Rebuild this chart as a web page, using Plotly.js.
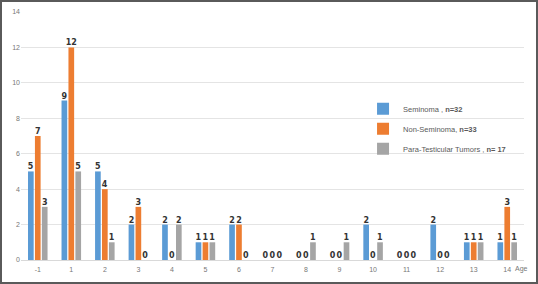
<!DOCTYPE html>
<html>
<head>
<meta charset="utf-8">
<script src="https://cdn.plot.ly/plotly-3.0.1.min.js"></script>
<style>html,body{margin:0;padding:0;background:#fff;}#wrap{position:relative;width:538px;height:284px;}#chart{width:538px;height:284px;}#frame{position:absolute;left:0;top:0;width:538px;height:284px;box-sizing:border-box;border:2px solid #5a5a5a;pointer-events:none;}</style>
</head>
<body>
<div id="wrap"><div id="chart"></div><div id="frame"></div></div>
<script>
var ages = ["-1","1","2","3","4","5","6","7","8","9","10","11","12","13","14"];
var seminoma = [5,9,5,2,2,1,2,0,0,0,2,0,2,1,1];
var nonSeminoma = [7,12,4,3,0,1,2,0,0,0,0,0,0,1,3];
var paraTesticular = [3,5,1,0,2,1,0,0,1,1,1,0,0,1,1];
var seriesNames = ["Seminoma , <b>n=32</b>", "Non-Seminoma, <b>n=33</b>", "Para-Testicular Tumors , <b>n= 17</b>"];
var colors = ["#5B9BD5", "#ED7D31", "#A5A5A5"];
var yTicks = [0,2,4,6,8,10,12,14];

function mk(vals, i) {
  return {
    type: "bar", x: ages, y: vals, name: seriesNames[i],
    marker: {color: colors[i]},
    text: vals.map(String), textposition: "outside", constraintext: "none",
    textfont: {family: "DejaVu Sans", size: 8, color: "#333", weight: "bold"},
    cliponaxis: false, legendgroup: "g" + i, hoverinfo: "none"
  };
}
var data = [mk(seminoma,0), mk(nonSeminoma,1), mk(paraTesticular,2)];
var layout = {
  width: 538, height: 284,
  margin: {l: 21, r: 14, t: 12, b: 24},
  paper_bgcolor: "#fff", plot_bgcolor: "#fff",
  barmode: "group", bargap: 0.38, bargroupgap: 0.18,
  showlegend: true,
  legend: {x: 0.68, y: 0.668, xanchor: "left", yanchor: "top",
    font: {family: "Liberation Sans", size: 7.5, color: "#595959"},
    traceorder: "grouped", tracegroupgap: 1, itemwidth: 30, bgcolor: "rgba(0,0,0,0)"},
  xaxis: {type: "category", tickfont: {family: "Liberation Sans", size: 7, color: "#777"},
    showline: true, linecolor: "#d9d9d9", linewidth: 1, ticks: "", showgrid: false, ticklabelstandoff: 3},
  yaxis: {range: [0, 14], tickvals: yTicks, showgrid: true, gridcolor: "#e4e4e4",
    tickfont: {family: "Liberation Sans", size: 7, color: "#777"}, zeroline: false, ticks: "", ticklen: 0},
  annotations: [{text: "Age", xref: "paper", yref: "paper", x: 0.996, y: -0.036, xanchor: "center", yanchor: "middle",
    showarrow: false, font: {family: "Liberation Sans", size: 7, color: "#777"}}]
};
Plotly.newPlot("chart", data, layout, {displayModeBar: false, staticPlot: true});
</script>
</body>
</html>
